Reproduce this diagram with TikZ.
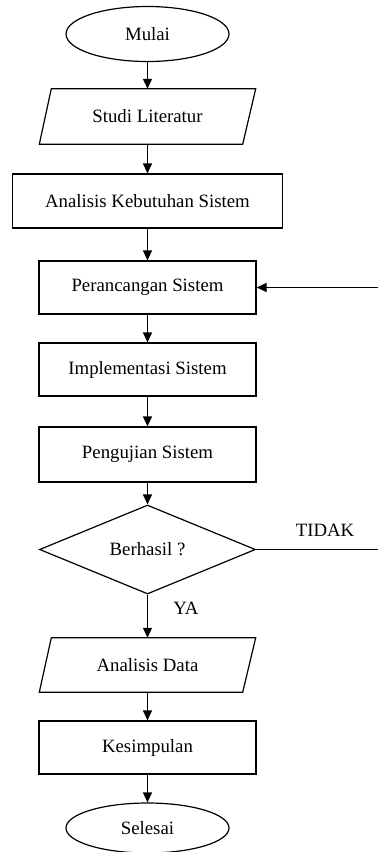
\documentclass[tikz,border=0pt]{standalone}
\usepackage{fontspec}
\setmainfont{Liberation Serif}
\usetikzlibrary{shapes.geometric,arrows.meta}
\begin{document}
\begin{tikzpicture}[x=1pt,y=-1pt,
  every node/.style={font=\fontsize{18.8}{22}\selectfont},
  line/.style={line width=1.2pt},
  arr/.style={line width=1.2pt,-{Triangle[length=10pt,width=9pt]}},
  term/.style={ellipse,draw,line width=1.2pt,minimum width=163pt,inner sep=0pt},
  proc/.style={rectangle,draw,line width=1.2pt,minimum width=217pt,minimum height=53pt,inner sep=0pt},
  io/.style={rectangle,minimum width=216pt,minimum height=55pt,inner sep=0pt},
  dec/.style={diamond,draw,line width=1.2pt,minimum width=216pt,minimum height=79pt,inner sep=0pt},
  lbl/.style={inner sep=0pt}]
\useasboundingbox (0,0) rectangle (378,852);
\node[term,minimum height=55pt] (mulai) at (147.5,34) {Mulai};
\node[io] (studi) at (147.5,116.5) {Studi Literatur};
\draw[line] ([xshift=12pt]studi.north west) -- (studi.north east) -- ([xshift=-13pt]studi.south east) -- (studi.south west) -- cycle;
\node[proc,minimum width=270pt,minimum height=54pt] (akb) at (147.5,201) {Analisis Kebutuhan Sistem};
\node[proc] (pr) at (147.5,287.5) {Perancangan Sistem};
\node[proc] (impl) at (147.5,369.5) {Implementasi Sistem};
\node[proc,minimum height=55pt] (peng) at (147.5,454.5) {Pengujian Sistem};
\node[dec] (cek) at (147.5,549.5) {Berhasil ?};
\node[io,minimum height=54pt] (ad) at (147.5,665) {Analisis Data};
\draw[line] ([xshift=12pt]ad.north west) -- (ad.north east) -- ([xshift=-13pt]ad.south east) -- (ad.south west) -- cycle;
\node[proc] (kes) at (147.5,747.5) {Kesimpulan};
\node[term,minimum height=50pt] (sel) at (147.5,828) {Selesai};
\coordinate (fb) at (378,287.5);
\coordinate (td) at (378,549.5);
\node[lbl] (tidak) at (325,530) {TIDAK};
\node[lbl] (ya) at (186,608) {YA};
\draw[arr] (mulai) -- (studi);
\draw[arr] (studi) -- (akb);
\draw[arr] (akb) -- (pr);
\draw[arr] (pr) -- (impl);
\draw[arr] (impl) -- (peng);
\draw[arr] (peng) -- (cek);
\draw[arr] (cek) -- (ad);
\draw[arr] (ad) -- (kes);
\draw[arr] (kes) -- (sel);
\draw[arr] (fb) -- (pr.east);
\draw[line] (cek.east) -- (td);
\end{tikzpicture}
\end{document}
